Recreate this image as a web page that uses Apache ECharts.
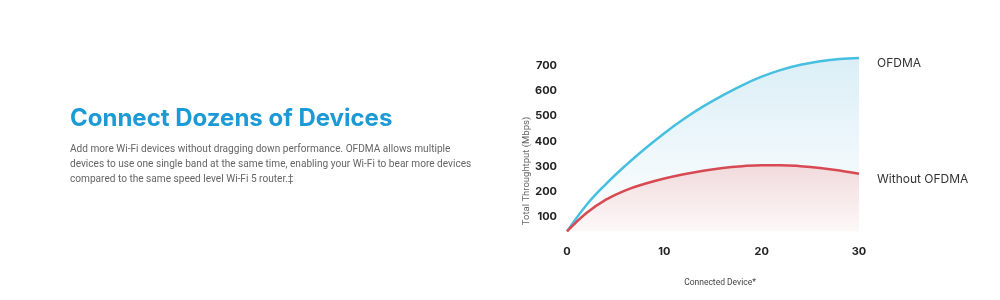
<!DOCTYPE html>
<html>
<head>
<meta charset="utf-8">
<script src="https://cdn.jsdelivr.net/npm/echarts@6/dist/echarts.min.js"></script>
<style>
  html, body { margin: 0; padding: 0; background: #ffffff; }
  #chart { width: 1000px; height: 300px; }
</style>
</head>
<body>
<div id="chart"></div>
<script>
// ---- data ----
const devices = [0, 2, 4, 6, 8, 10, 12, 14, 16, 18, 20, 22, 24, 26, 28, 30];
const ofdma = [42, 147, 230, 303, 370, 432, 488, 538, 582, 622, 656, 683, 703, 717, 726, 730];
const withoutOfdma = [42, 115, 168, 205, 231, 252, 269, 283, 294, 301, 305, 305, 301, 294, 284, 271];
const seriesNames = ['OFDMA', 'Without OFDMA'];
const xTicks = [0, 10, 20, 30];
const yTicks = [100, 200, 300, 400, 500, 600, 700];
const baseline = 42;
const title = 'Connect Dozens of Devices';
const bodyLines = [
  'Add more Wi-Fi devices without dragging down performance. OFDMA allows multiple',
  'devices to use one single band at the same time, enabling your Wi-Fi to bear more devices',
  'compared to the same speed level Wi-Fi 5 router.\u2021'
];
const yAxisTitle = 'Total Throughtput (Mbps)';
const xAxisTitle = 'Connected Device*';

const pairs = (xs, ys) => xs.map((x, i) => [x, ys[i]]);

const chart = echarts.init(document.getElementById('chart'), null, { renderer: 'canvas' });
const fontFamily = 'Inter, Roboto, "Noto Sans", sans-serif';
const bodyFont = 'Roboto, Inter, sans-serif';

const graphics = [
  {
    type: 'text', left: 70, top: 107,
    style: { text: title, fill: '#1c9ad6', fontSize: 24, fontWeight: 'bold', fontFamily: fontFamily }
  }
];
bodyLines.forEach((line, i) => {
  graphics.push({
    type: 'text', left: 70, top: 144 + i * 15,
    style: { text: line, fill: '#666666', fontSize: 10.1, fontFamily: bodyFont }
  });
});
graphics.push({
  type: 'text', x: 527, y: 171, rotation: Math.PI / 2,
  style: { text: yAxisTitle, fill: '#666666', fontSize: 9.5, fontFamily: bodyFont, align: 'center', verticalAlign: 'middle' }
});
graphics.push({
  type: 'text', x: 720, y: 283,
  style: { text: xAxisTitle, fill: '#444444', fontSize: 8.5, fontFamily: bodyFont, align: 'center', verticalAlign: 'middle' }
});

chart.setOption({
  animation: false,
  backgroundColor: '#ffffff',
  graphic: graphics,
  grid: { left: 567, right: 141, top: 53, bottom: 58, containLabel: false },
  xAxis: {
    type: 'value', min: 0, max: 30, interval: 10,
    axisLine: { show: false }, axisTick: { show: false }, splitLine: { show: false },
    axisLabel: {
      margin: 4, color: '#222222', fontWeight: 'bold', fontSize: 11, fontFamily: fontFamily,
      formatter: v => (xTicks.indexOf(v) >= 0 ? String(v) : '')
    }
  },
  yAxis: {
    type: 'value', min: 0, max: 750, interval: 50,
    axisLine: { show: false }, axisTick: { show: false }, splitLine: { show: false },
    axisLabel: {
      margin: 10, color: '#222222', fontWeight: 'bold', fontSize: 11, fontFamily: fontFamily,
      formatter: v => (yTicks.indexOf(v) >= 0 ? String(v) : '')
    }
  },
  series: [
    {
      name: seriesNames[0], type: 'line', smooth: 0.4, symbol: 'none',
      data: pairs(devices, ofdma),
      lineStyle: { color: '#47bfe0', width: 2.5 },
      areaStyle: {
        origin: baseline,
        color: new echarts.graphic.LinearGradient(0, 0, 0, 1, [
          { offset: 0, color: '#cbe7f3' },
          { offset: 1, color: '#ffffff' }
        ])
      },
      endLabel: {
        show: true, formatter: '{a}', distance: 18, offset: [0, 5],
        color: '#333333', fontSize: 12, fontFamily: fontFamily
      },
      z: 2
    },
    {
      name: seriesNames[1], type: 'line', smooth: 0.4, symbol: 'none',
      data: pairs(devices, withoutOfdma),
      lineStyle: { color: '#d84a53', width: 2.5 },
      areaStyle: {
        origin: baseline, opacity: 1,
        color: new echarts.graphic.LinearGradient(0, 0, 0, 1, [
          { offset: 0, color: '#f1dadc' },
          { offset: 1, color: '#fdf8f8' }
        ])
      },
      endLabel: {
        show: true, formatter: '{a}', distance: 18, offset: [0, 6],
        color: '#333333', fontSize: 12, fontFamily: fontFamily
      },
      z: 3
    }
  ]
});
</script>
</body>
</html>
